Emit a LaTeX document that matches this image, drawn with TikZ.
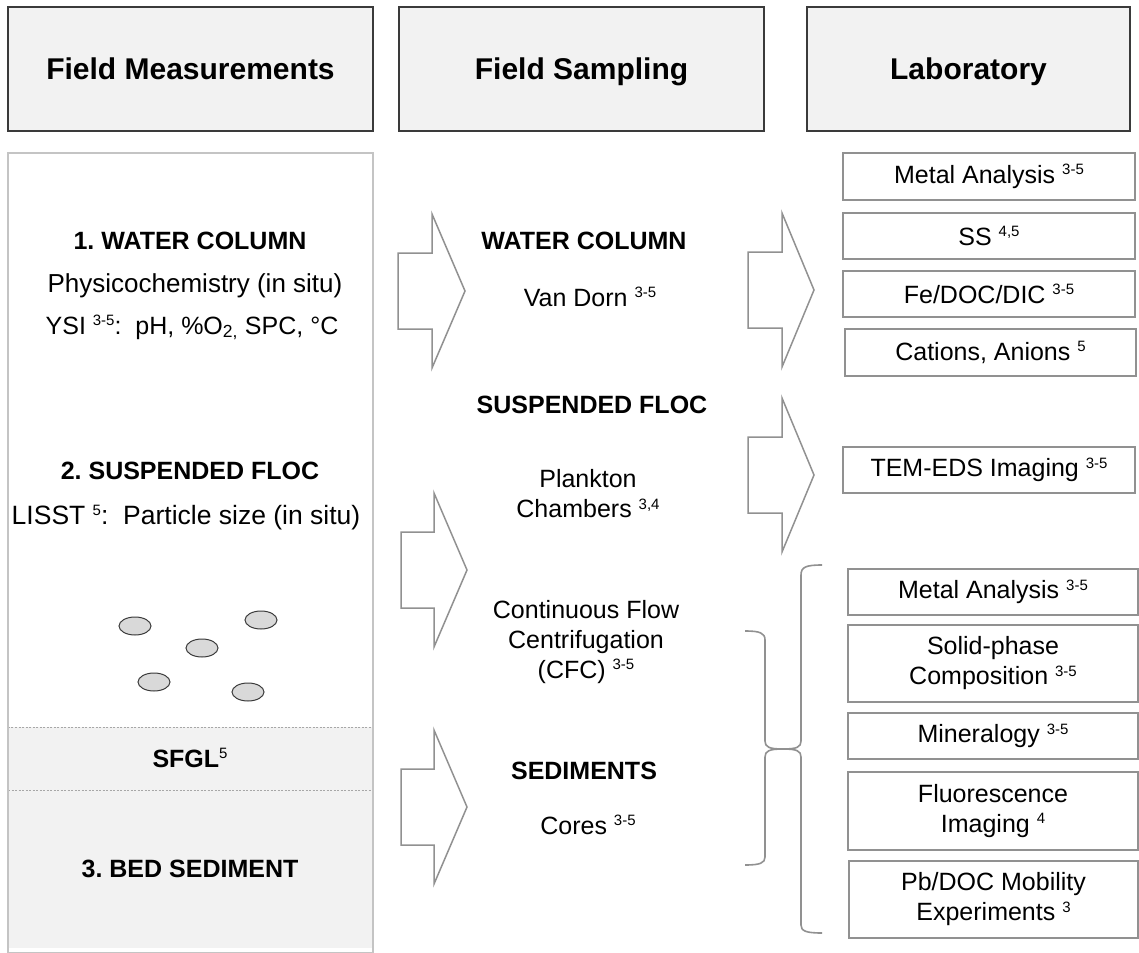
\documentclass[tikz,border=0pt]{standalone}
\usepackage{fontspec}
\setmainfont{Liberation Sans}
\usetikzlibrary{shapes.geometric}

\definecolor{hdrfill}{HTML}{F2F2F2}
\definecolor{hdrline}{HTML}{3A3A3A}
\definecolor{panelline}{HTML}{C4C4C4}
\definecolor{grayline}{HTML}{919191}
\definecolor{flocfill}{HTML}{D9D9D9}
\definecolor{flocline}{HTML}{3A3A3A}
\definecolor{bandfill}{HTML}{F2F2F2}

% small raised reference numbers
\newcommand{\srcref}[1]{\raisebox{8.5pt}{\fontsize{15}{15}\selectfont #1}}

\begin{document}
\frenchspacing
\begin{tikzpicture}[x=1pt,y=-1pt,
  hdr/.style={draw=hdrline, fill=hdrfill, line width=1.5pt, minimum height=124pt,
    inner sep=0pt, font=\fontsize{30}{35}\selectfont\bfseries, text height=21pt, text depth=0pt},
  labbox/.style={draw=grayline, line width=1.4pt, fill=white, inner sep=0pt,
    minimum width=292pt, align=center, font=\fontsize{25}{30}\selectfont},
  txt/.style={align=center, inner sep=0pt, font=\fontsize{25}{30}\selectfont},
  btxt/.style={txt, font=\fontsize{25}{30}\selectfont\bfseries},
  bigtxt/.style={txt, font=\fontsize{26}{31}\selectfont},
  oneline/.style={text height=18pt, text depth=0pt},
  blockarrow/.style={draw=grayline, line width=1.5pt, fill=white, line join=miter},
  brace/.style={draw=grayline, line width=1.6pt},
  floc/.style={ellipse, draw=flocline, fill=flocfill, line width=1pt,
    minimum width=32pt, minimum height=18pt, inner sep=0pt},
  band/.style={draw=grayline!80, dashed, dash pattern=on 2pt off 1.5pt, line width=0.8pt, fill=bandfill}
]
\useasboundingbox (0,0) rectangle (1139,952);

% column headers
\node[hdr, minimum width=365pt] (hfield) at (190.5,69) {Field Measurements};
\node[hdr, minimum width=365pt] (hsamp) at (581.5,69) {Field Sampling};
\node[hdr, minimum width=323pt] (hlab) at (968.5,69) {Laboratory};

% field measurement panel
\fill[bandfill] (9,790) rectangle (372,948);
\node[band, minimum width=365pt, minimum height=63pt, inner sep=0pt] (sfglband) at (190.5,758.5) {};
\draw[panelline, line width=1.2pt] (8,153) rectangle (373,953);

\node[btxt, oneline] (wc) at (190,240) {1. WATER COLUMN};
\node[bigtxt, oneline] (phys) at (195,283) {Physicochemistry (in situ)};
\node[txt, oneline] (ysi) at (192,325) {YSI \srcref{3-5}:\ \ pH, \%O\textsubscript{2,} SPC, °C};
\node[btxt, oneline] (sf) at (190,470) {2. SUSPENDED FLOC};
\node[txt, oneline, font=\fontsize{26.5}{31}\selectfont] (lisst) at (186,515) {LISST \srcref{5}:\ \ Particle size (in situ)};

\node[floc] (f1) at (135,626) {};
\node[floc] (f2) at (202,648) {};
\node[floc] (f3) at (261,620) {};
\node[floc] (f4) at (154,682) {};
\node[floc] (f5) at (248,692) {};

\node[btxt, oneline] (sfgl) at (190,758) {SFGL\srcref{\mdseries 5}};
\node[btxt, oneline] (bed) at (190,868) {3. BED SEDIMENT};

% field sampling column
\node[btxt, oneline] (swc) at (584,240) {WATER COLUMN};
\node[txt, oneline] (vandorn) at (590,297) {Van Dorn \srcref{3-5}};
\node[btxt, oneline] (ssf) at (592,404) {SUSPENDED FLOC};
\node[txt] (plankton) at (588,494) {Plankton\\Chambers \srcref{3,4}};
\node[txt] (cfc) at (586,642) {Continuous Flow\\Centrifugation\\(CFC) \srcref{3-5}};
\node[btxt, oneline] (sed) at (584,770) {SEDIMENTS};
\node[txt, oneline] (cores) at (588,825) {Cores \srcref{3-5}};

% block arrows: tail x, neck x, tip x, centre y
\newcommand{\flowarrow}[4]{%
  \draw[blockarrow] (#1,#4-38) -- (#2,#4-38) -- (#2,#4-77) -- (#3,#4)
    -- (#2,#4+77) -- (#2,#4+38) -- (#1,#4+38) -- cycle;}
\flowarrow{398}{432}{465}{291}
\flowarrow{401}{434}{467}{570}
\flowarrow{401}{434}{467}{807}
\flowarrow{748}{782}{814}{290}
\flowarrow{748}{782}{814}{475}

% laboratory analyses
\node[labbox, minimum height=47pt] (lmetal) at (989,176.5) {Metal Analysis \srcref{3-5}};
\node[labbox, minimum height=46pt] (lss) at (989,236) {SS \srcref{4,5}};
\node[labbox, minimum height=46pt] (lfe) at (989,294) {Fe/DOC/DIC \srcref{3-5}};
\node[labbox, minimum height=47pt, minimum width=291pt] (lions) at (990.5,352.5) {Cations, Anions \srcref{5}};
\node[labbox, minimum height=46pt] (ltem) at (989,470) {TEM-EDS Imaging \srcref{3-5}};

\node[labbox, minimum height=46pt, minimum width=290pt] (lmetalb) at (993,592) {Metal Analysis \srcref{3-5}};
\node[labbox, minimum height=77pt, minimum width=290pt] (lsolid) at (993,663.5) {Solid-phase\\Composition \srcref{3-5}};
\node[labbox, minimum height=46pt, minimum width=290pt] (lmin) at (993,736) {Mineralogy \srcref{3-5}};
\node[labbox, minimum height=78pt, minimum width=290pt] (lfluo) at (993,811) {Fluorescence\\Imaging \srcref{4}};
\node[labbox, minimum height=77pt, minimum width=289pt] (lpb) at (993.5,899.5) {Pb/DOC Mobility\\Experiments \srcref{3}};

% braces grouping the solid-phase analyses
\coordinate (bracetip) at (783,749);
\draw[brace] (822,565) .. controls (806,565) and (801,567) .. (801,575)
  -- (801,741) .. controls (801,747) and (797,749) .. (bracetip)
  .. controls (797,749) and (801,751) .. (801,757)
  -- (801,925) .. controls (801,931) and (806,933) .. (822,933);
\draw[brace] (745,631) .. controls (760,631) and (765,633) .. (765,640)
  -- (765,741) .. controls (765,747) and (769,749) .. (bracetip)
  .. controls (769,749) and (765,751) .. (765,757)
  -- (765,857) .. controls (765,863) and (760,865) .. (745,865);
\end{tikzpicture}
\end{document}
